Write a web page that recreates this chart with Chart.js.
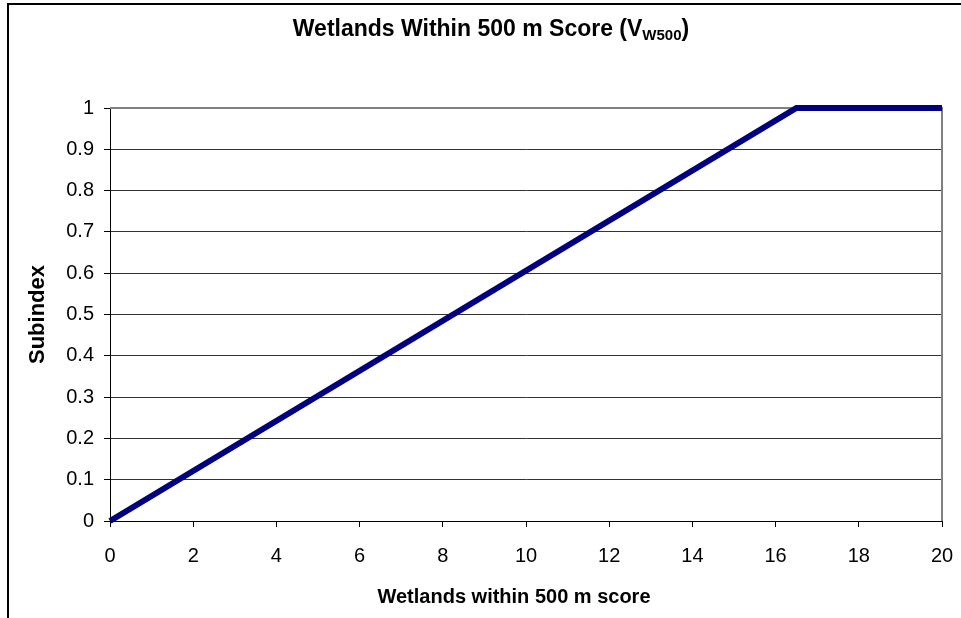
<!DOCTYPE html>
<html>
<head>
<meta charset="utf-8">
<script src="https://cdn.jsdelivr.net/npm/chart.js@4.4.1/dist/chart.umd.min.js"></script>
<style>
  html, body { margin: 0; padding: 0; background: #fff; }
  canvas { display: block; }
</style>
</head>
<body>
<canvas id="chart" width="961" height="618"></canvas>
<script>
// Data
const scores = [0, 16.5, 20]
const subindex = [0, 1, 1]
const xTicks = [0, 2, 4, 6, 8, 10, 12, 14, 16, 18, 20]
const yTicks = [0, 0.1, 0.2, 0.3, 0.4, 0.5, 0.6, 0.7, 0.8, 0.9, 1]

const FONT = "'Liberation Sans', Arial, sans-serif"

// Outer frame, title with subscript, plot border, x axis title
const decorations = {
    id: 'decorations',
    beforeDraw(chart) {
        const ctx = chart.ctx
        ctx.save()
        ctx.strokeStyle = '#000'
        ctx.lineWidth = 2
        ctx.beginPath()
        ctx.moveTo(8, 640)
        ctx.lineTo(8, 4)
        ctx.lineTo(980, 4)
        ctx.stroke()

        // Title: "Wetlands Within 500 m Score (V" + sub "W500" + ")"
        const main = 'Wetlands Within 500 m Score (V'
        const sub = 'W500'
        const close = ')'
        ctx.fillStyle = '#000'
        ctx.textBaseline = 'alphabetic'
        ctx.font = 'bold 23px ' + FONT
        const w1 = ctx.measureText(main).width
        const w3 = ctx.measureText(close).width
        ctx.font = 'bold 15px ' + FONT
        const w2 = ctx.measureText(sub).width
        let x = 491 - (w1 + w2 + w3) / 2
        ctx.textAlign = 'left'
        ctx.font = 'bold 23px ' + FONT
        ctx.fillText(main, x, 36)
        x += w1
        ctx.font = 'bold 15px ' + FONT
        ctx.fillText(sub, x, 40)
        x += w2
        ctx.font = 'bold 23px ' + FONT
        ctx.fillText(close, x, 36)

        // x axis title (sits a little left of the plot centre in the original)
        ctx.textAlign = 'center'
        ctx.textBaseline = 'middle'
        ctx.font = 'bold 20px ' + FONT
        ctx.fillText('Wetlands within 500 m score', 514, 597)
        ctx.restore()
    },
    beforeDatasetsDraw(chart) {
        const {ctx, chartArea} = chart
        ctx.save()
        ctx.strokeStyle = '#808080'
        ctx.lineWidth = 2
        ctx.beginPath()
        ctx.moveTo(chartArea.left, chartArea.top)
        ctx.lineTo(chartArea.right, chartArea.top)
        ctx.lineTo(chartArea.right, chartArea.bottom)
        ctx.stroke()
        ctx.restore()
    }
}

new Chart(document.getElementById('chart'), {
    type: 'line',
    data: {
        datasets: [{
            data: scores.map((s, i) => ({ x: s, y: subindex[i] })),
            borderColor: '#000080',
            borderWidth: 6,
            pointRadius: 0,
            tension: 0,
            fill: false,
            clip: 4
        }]
    },
    options: {
        responsive: false,
        animation: false,
        layout: { padding: { top: 108, right: 19, bottom: 0, left: 0 } },
        plugins: {
            legend: { display: false },
            tooltip: { enabled: false }
        },
        scales: {
            x: {
                type: 'linear',
                min: 0,
                max: 20,
                afterBuildTicks(scale) { scale.ticks = xTicks.map(v => ({ value: v })) },
                afterFit(scale) {
                    scale.height = 97
                    scale.paddingLeft = 0
                    scale.paddingRight = 0
                },
                ticks: {
                    color: '#000',
                    padding: 17,
                    maxRotation: 0,
                    font: { family: FONT, size: 20 }
                },
                grid: { drawOnChartArea: false, color: '#000', tickLength: 6 },
                border: { color: '#000', width: 1 },
                title: { display: false }
            },
            y: {
                min: 0,
                max: 1,
                afterBuildTicks(scale) { scale.ticks = yTicks.map(v => ({ value: v })) },
                afterFit(scale) { scale.width = 110 },
                ticks: {
                    color: '#000',
                    padding: 10,
                    font: { family: FONT, size: 20 },
                    callback: v => String(v)
                },
                grid: {
                    color: ctx => ctx.tick && ctx.tick.value === 1 ? '#808080' : '#333',
                    tickColor: '#000',
                    tickLength: 6
                },
                border: { color: '#000', width: 1 },
                title: {
                    display: true,
                    text: 'Subindex',
                    color: '#000',
                    font: { family: FONT, size: 22, weight: 'bold' },
                    padding: { top: 25, bottom: 0 }
                }
            }
        }
    },
    plugins: [decorations]
})
</script>
</body>
</html>
